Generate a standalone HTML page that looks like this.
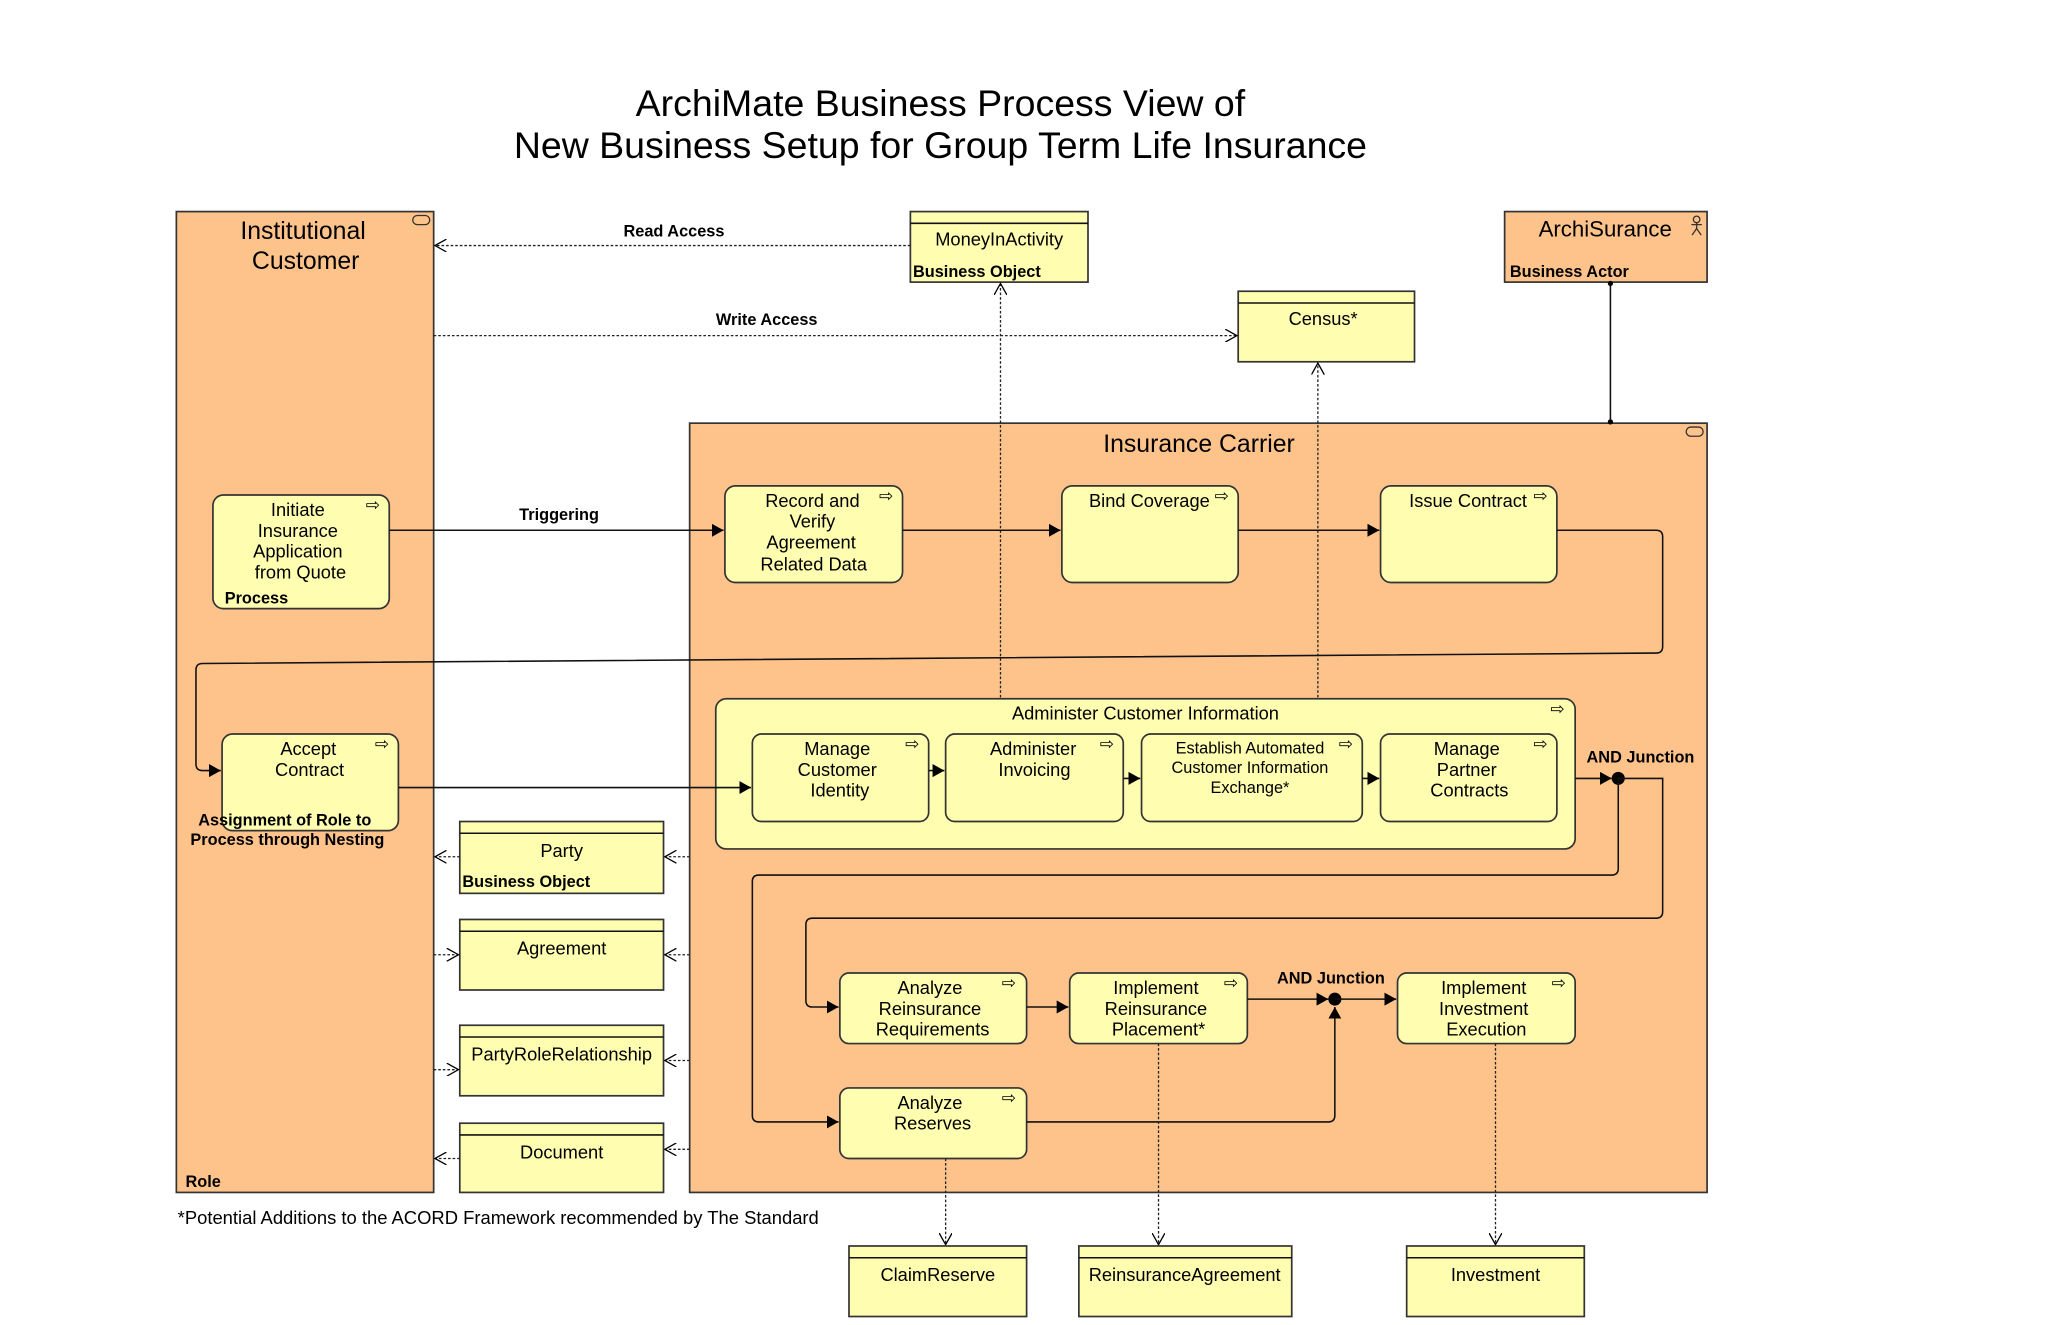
<!DOCTYPE html>
<html><head><meta charset="utf-8"><style>
html,body{margin:0;padding:0;background:#fff;}
svg{display:block;}
text{font-family:"Liberation Sans",sans-serif;fill:#000;}
.o{fill:#FEC38B;stroke:#333;stroke-width:1.3;}
.y{fill:#FEFDB0;stroke:#333;stroke-width:1.3;}
.l{fill:none;stroke:#111;stroke-width:1.2;}
.d{fill:none;stroke:#222;stroke-width:1;stroke-dasharray:2,1.5;}
.t{font-size:14px;text-anchor:middle;}
.b{font-size:12.5px;font-weight:bold;}
.ic{font-size:13px;}
</style></head><body>
<svg width="2048" height="1325" viewBox="0 0 1568 1014.5" xmlns="http://www.w3.org/2000/svg">
<defs>
<marker id="f" markerWidth="10" markerHeight="10" refX="9" refY="5" orient="auto" markerUnits="userSpaceOnUse"><path d="M0,0 L9,5 L0,10 z" fill="#000"/></marker>
<marker id="op" markerWidth="10" markerHeight="10" refX="9" refY="5" orient="auto" markerUnits="userSpaceOnUse"><path d="M0,0 L9,5 L0,10" fill="none" stroke="#000" stroke-width="1"/></marker>
</defs>
<text x="720" y="89" style="font-size:28.7px" text-anchor="middle">ArchiMate Business Process View of</text>
<text x="720" y="121" style="font-size:28.7px" text-anchor="middle">New Business Setup for Group Term Life Insurance</text>

<rect class="o" x="135" y="162" width="197" height="751"/>
<text x="232" y="183" style="font-size:19px" text-anchor="middle">Institutional</text>
<text x="234" y="206" style="font-size:19px" text-anchor="middle">Customer</text>
<rect x="316" y="165" width="13" height="7" rx="3.5" fill="none" stroke="#333"/>
<text x="142" y="909" class="b">Role</text>

<rect class="o" x="528" y="324" width="779" height="589"/>
<text x="918" y="346" style="font-size:19px" text-anchor="middle">Insurance Carrier</text>
<rect x="1291" y="327" width="13" height="7" rx="3.5" fill="none" stroke="#333"/>

<rect class="o" x="1152" y="162" width="155" height="54"/>
<text x="1229" y="181" style="font-size:17px" text-anchor="middle">ArchiSurance</text>
<text x="1156" y="212" class="b">Business Actor</text>
<g stroke="#333" fill="none" stroke-width="1"><circle cx="1299" cy="168" r="2.5"/><path d="M1299,170.5 V175 M1295,172 H1303 M1299,175 L1295.5,180 M1299,175 L1302.5,180"/></g>
<path class="l" d="M1233,216 V324"/><circle cx="1233" cy="217" r="2" fill="#000"/><circle cx="1233" cy="323" r="2" fill="#000"/>

<rect class="y" x="697" y="162" width="136" height="54"/><path class="l" d="M697,171 H833"/>
<text x="765" y="188" class="t">MoneyInActivity</text>
<text x="699" y="212" class="b">Business Object</text>
<rect class="y" x="948" y="223" width="135" height="54"/><path class="l" d="M948,232 H1083"/>
<text x="1013" y="249" class="t">Census*</text>

<path class="d" d="M697,188 H333" marker-end="url(#op)"/>
<text x="516" y="181" class="b" text-anchor="middle">Read Access</text>
<path class="d" d="M332,257 H947" marker-end="url(#op)"/>
<text x="587" y="249" class="b" text-anchor="middle">Write Access</text>

<path class="d" d="M766,562 V217" marker-end="url(#op)"/>
<path class="d" d="M1009,562 V278" marker-end="url(#op)"/>

<rect class="y" x="163" y="379" width="135" height="87" rx="8"/>
<g class="t"><text x="228" y="395">Initiate</text><text x="228" y="411">Insurance</text><text x="228" y="427">Application</text><text x="230" y="443">from Quote</text></g>
<text x="172" y="462" class="b">Process</text>

<path class="l" d="M298,406 H554" marker-end="url(#f)"/>
<text x="428" y="398" class="b" text-anchor="middle">Triggering</text>

<rect class="y" x="555" y="372" width="136" height="74" rx="8"/>
<g class="t"><text x="622" y="388">Record and</text><text x="622" y="404">Verify</text><text x="621" y="420">Agreement</text><text x="623" y="437">Related Data</text></g>
<rect class="y" x="813" y="372" width="135" height="74" rx="8"/>
<text x="880" y="388" class="t">Bind Coverage</text>
<rect class="y" x="1057" y="372" width="135" height="74" rx="8"/>
<text x="1124" y="388" class="t">Issue Contract</text>
<path class="l" d="M691,406 H812" marker-end="url(#f)"/>
<path class="l" d="M948,406 H1056" marker-end="url(#f)"/>
<path class="l" d="M1192,406 H1268 Q1273,406 1273,411 V495 Q1273,500 1268,500 L155,508 Q150,508 150,513 V585 Q150,590 155,590 H169" marker-end="url(#f)"/>

<rect class="y" x="170" y="562" width="135" height="74" rx="8"/>
<g class="t"><text x="236" y="578">Accept</text><text x="237" y="594">Contract</text></g>
<text x="218" y="632" class="b" text-anchor="middle">Assignment of Role to</text>
<text x="220" y="647" class="b" text-anchor="middle">Process through Nesting</text>

<rect class="y" x="548" y="535" width="658" height="115" rx="8"/>
<text x="877" y="551" class="t">Administer Customer Information</text>
<rect class="y" x="576" y="562" width="135" height="67" rx="7"/>
<g class="t"><text x="641" y="578">Manage</text><text x="641" y="594">Customer</text><text x="643" y="610">Identity</text></g>
<rect class="y" x="724" y="562" width="136" height="67" rx="7"/>
<g class="t"><text x="791" y="578">Administer</text><text x="792" y="594">Invoicing</text></g>
<rect class="y" x="874" y="562" width="169" height="67" rx="7"/>
<g class="t" style="font-size:12.5px"><text x="957" y="577">Establish Automated</text><text x="957" y="592">Customer Information</text><text x="957" y="607">Exchange*</text></g>
<rect class="y" x="1057" y="562" width="135" height="67" rx="7"/>
<g class="t"><text x="1123" y="578">Manage</text><text x="1123" y="594">Partner</text><text x="1125" y="610">Contracts</text></g>
<path class="l" d="M305,603 H575" marker-end="url(#f)"/>
<path class="l" d="M711,590 H723" marker-end="url(#f)"/>
<path class="l" d="M860,596 H873" marker-end="url(#f)"/>
<path class="l" d="M1043,596 H1056" marker-end="url(#f)"/>
<path class="l" d="M1206,596 H1234" marker-end="url(#f)"/>
<circle cx="1239" cy="596" r="5" fill="#000"/>
<text x="1256" y="584" class="b" text-anchor="middle">AND Junction</text>
<path class="l" d="M1239,596 H1273 V698 Q1273,703 1268,703 H622 Q617,703 617,708 V766 Q617,771 622,771 H642" marker-end="url(#f)"/>
<path class="l" d="M1239,596 V665 Q1239,670 1234,670 H581 Q576,670 576,675 V854 Q576,859 581,859 H642" marker-end="url(#f)"/>

<rect class="y" x="643" y="745" width="143" height="54" rx="7"/>
<g class="t"><text x="712" y="761">Analyze</text><text x="712" y="777">Reinsurance</text><text x="714" y="793">Requirements</text></g>
<rect class="y" x="819" y="745" width="136" height="54" rx="7"/>
<g class="t"><text x="885" y="761">Implement</text><text x="885" y="777">Reinsurance</text><text x="887" y="793">Placement*</text></g>
<path class="l" d="M786,771 H818" marker-end="url(#f)"/>
<path class="l" d="M955,765 H1017" marker-end="url(#f)"/>
<circle cx="1022" cy="765" r="5" fill="#000"/>
<path class="l" d="M1022,765 H1069" marker-end="url(#f)"/>
<text x="1019" y="753" class="b" text-anchor="middle">AND Junction</text>
<rect class="y" x="1070" y="745" width="136" height="54" rx="7"/>
<g class="t"><text x="1136" y="761">Implement</text><text x="1136" y="777">Investment</text><text x="1138" y="793">Execution</text></g>
<rect class="y" x="643" y="833" width="143" height="54" rx="7"/>
<g class="t"><text x="712" y="849">Analyze</text><text x="714" y="865">Reserves</text></g>
<path class="l" d="M786,859 H1017 Q1022,859 1022,854 V771" marker-end="url(#f)"/>

<g class="ic" fill="#000"><text x="280" y="391">⇨</text><text x="673" y="384">⇨</text><text x="930" y="384">⇨</text><text x="1174" y="384">⇨</text><text x="287" y="574">⇨</text><text x="1187" y="547">⇨</text><text x="693" y="574">⇨</text><text x="842" y="574">⇨</text><text x="1025" y="574">⇨</text><text x="1174" y="574">⇨</text><text x="767" y="757">⇨</text><text x="937" y="757">⇨</text><text x="1188" y="757">⇨</text><text x="767" y="845">⇨</text></g>

<path class="d" d="M724,887 V953" marker-end="url(#op)"/>
<path class="d" d="M887,799 V953" marker-end="url(#op)"/>
<path class="d" d="M1145,799 V953" marker-end="url(#op)"/>
<rect class="y" x="650" y="954" width="136" height="54"/><path class="l" d="M650,963 H786"/><text x="718" y="981" class="t">ClaimReserve</text>
<rect class="y" x="826" y="954" width="163" height="54"/><path class="l" d="M826,963 H989"/><text x="907" y="981" class="t">ReinsuranceAgreement</text>
<rect class="y" x="1077" y="954" width="136" height="54"/><path class="l" d="M1077,963 H1213"/><text x="1145" y="981" class="t">Investment</text>

<rect class="y" x="352" y="629" width="156" height="55"/><path class="l" d="M352,638 H508"/><text x="430" y="656" class="t">Party</text><text x="354" y="679" class="b">Business Object</text>
<rect class="y" x="352" y="704" width="156" height="54"/><path class="l" d="M352,713 H508"/><text x="430" y="731" class="t">Agreement</text>
<rect class="y" x="352" y="785" width="156" height="54"/><path class="l" d="M352,794 H508"/><text x="430" y="812" class="t">PartyRoleRelationship</text>
<rect class="y" x="352" y="860" width="156" height="53"/><path class="l" d="M352,869 H508"/><text x="430" y="887" class="t">Document</text>
<path class="d" d="M352,656 H333" marker-end="url(#op)"/>
<path class="d" d="M528,656 H509" marker-end="url(#op)"/>
<path class="d" d="M332,731 H351" marker-end="url(#op)"/>
<path class="d" d="M528,731 H509" marker-end="url(#op)"/>
<path class="d" d="M332,819 H351" marker-end="url(#op)"/>
<path class="d" d="M528,812 H509" marker-end="url(#op)"/>
<path class="d" d="M352,887 H333" marker-end="url(#op)"/>
<path class="d" d="M528,880 H509" marker-end="url(#op)"/>

<text x="136" y="937" style="font-size:14.1px">*Potential Additions to the ACORD Framework recommended by The Standard</text>
</svg>
</body></html>
